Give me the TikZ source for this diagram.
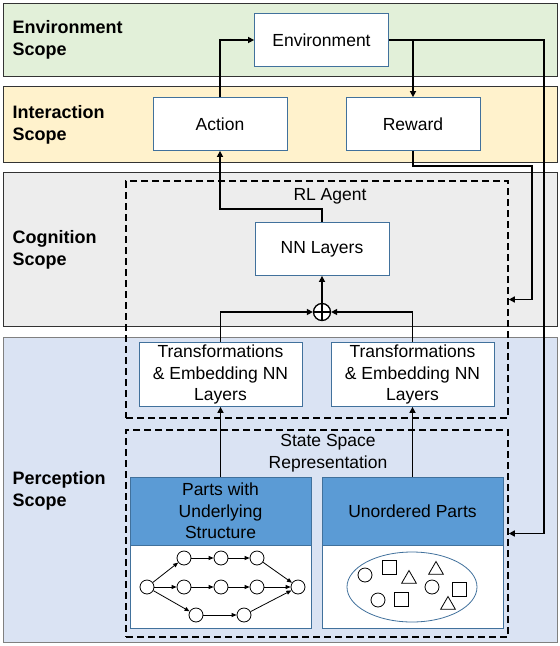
\documentclass[tikz,border=0pt]{standalone}
\usepackage{fontspec}
\setmainfont{Liberation Sans}
\usetikzlibrary{arrows.meta,shapes.geometric}

\definecolor{envgreen}{HTML}{E2F0D9}
\definecolor{actorange}{HTML}{FFF2CC}
\definecolor{coggray}{HTML}{EDEDED}
\definecolor{percblue}{HTML}{DAE3F3}
\definecolor{boxedge}{HTML}{41719C}
\definecolor{headblue}{HTML}{5B9BD5}

\tikzset{
  band/.style={draw=black!80, line width=1pt},
  scopelabel/.style={anchor=west, align=left, font=\fontsize{18}{22}\selectfont\bfseries},
  block/.style={draw=boxedge, fill=white, line width=0.8pt, minimum width=134pt,
    minimum height=53pt, inner sep=1pt, align=center, font=\fontsize{17.5}{21.5}\selectfont},
  header/.style={draw=boxedge, fill=headblue, line width=0.8pt, minimum width=181pt,
    minimum height=68pt, inner sep=1pt, align=center, font=\fontsize{17.5}{21.5}\selectfont},
  partsbody/.style={draw=boxedge, fill=white, line width=0.8pt, minimum width=181pt,
    minimum height=83pt},
  groupbox/.style={draw=black, line width=1.6pt, dash pattern=on 7pt off 4pt,
    minimum width=382pt},
  flow/.style={line width=1.7pt, -{Triangle[length=6pt,width=6pt]}},
  gnode/.style={circle, draw, line width=0.8pt, fill=white, minimum size=14pt, inner sep=0pt},
  gedge/.style={line width=0.8pt, -{Triangle[length=5pt,width=4pt]}},
  ushape/.style={draw, line width=0.8pt, inner sep=0pt},
}

\begin{document}
\begin{tikzpicture}[x=1pt, y=-1pt]
  \useasboundingbox (0,0) rectangle (560,646);

  % Scope bands
  \draw[band, fill=envgreen] (3,3) rectangle (557,76);
  \draw[band, fill=actorange] (3,86) rectangle (557,162);
  \draw[band, fill=coggray] (3,172) rectangle (557,326);
  \draw[band, draw=gray, fill=percblue] (3,337) rectangle (557,642);

  \node[scopelabel] (envscope) at (9,40) {Environment\\Scope};
  \node[scopelabel] (actscope) at (9,125) {Interaction\\Scope};
  \node[scopelabel] (cogscope) at (9,250) {Cognition\\Scope};
  \node[scopelabel] (percscope) at (9,491) {Perception\\Scope};

  % Dashed groups
  \node[groupbox, minimum height=237pt] (rlagent) at (317,299.5) {};
  \node[groupbox, minimum height=207pt] (statespace) at (317,533.5) {};
  \node[font=\fontsize{17.5}{21.5}\selectfont] (rllabel) at (330,196) {RL Agent};
  \node[align=center, font=\fontsize{17.5}{21.5}\selectfont] (statelabel) at (328,453)
    {State Space\\Representation};

  % Blocks
  \node[block] (env) at (321.5,40) {Environment};
  \node[block] (action) at (220,124) {Action};
  \node[block] (reward) at (413,124) {Reward};
  \node[block] (nn) at (322,249) {NN Layers};
  \node[circle, draw, line width=1.3pt, fill=white, minimum size=17pt, inner sep=0pt] (plus) at (322,312) {};
  \draw[line width=1.3pt] (plus.north) -- (plus.south) (plus.west) -- (plus.east);
  \node[block, minimum width=163pt, minimum height=64pt] (transL) at (220.5,374.5)
    {Transformations\\\& Embedding NN\\Layers};
  \node[block, minimum width=163pt, minimum height=64pt] (transR) at (412.5,374.5)
    {Transformations\\\& Embedding NN\\Layers};

  % State space parts
  \node[partsbody] (graphL) at (220.5,586.5) {};
  \node[partsbody] (graphR) at (412.5,586.5) {};
  \node[header] (partsL) at (220.5,511) {Parts with\\Underlying\\Structure};
  \node[header] (partsR) at (412.5,511) {Unordered Parts};

  % Connectors
  \draw[flow] (nn.north) -- ++(0,-13) -| (action.south);
  \draw[flow] (action.north) |- (env.west);
  \coordinate (envturn) at (544,40);
  \draw[flow] (env.east) -- (envturn) |- (statespace.east);
  \draw[flow] (reward.north |- env.east) -- (reward.north);
  \coordinate (rewturn) at (532,166);
  \draw[flow] (reward.south) |- (rewturn) |- (rlagent.east);
  \draw[flow] (transL.north) |- (plus.west);
  \draw[flow] (transR.north) |- (plus.east);
  \draw[flow] (plus.north) -- (nn.south);
  \draw[flow] (partsL.north) -- (transL.south);
  \draw[flow] (partsR.north) -- (transR.south);

  % Structured parts: graph
  \node[gnode] (g0) at (147,587) {};
  \node[gnode] (t1) at (184,558) {};
  \node[gnode] (t2) at (221,558) {};
  \node[gnode] (t3) at (257,558) {};
  \node[gnode] (m1) at (184,587) {};
  \node[gnode] (m2) at (221,587) {};
  \node[gnode] (m3) at (257,587) {};
  \node[gnode] (b1) at (196,615) {};
  \node[gnode] (b2) at (244,615) {};
  \node[gnode] (g9) at (298,587) {};
  \foreach \a/\b in {g0/t1, t1/t2, t2/t3, t3/g9, g0/m1, m1/m2, m2/m3, m3/g9, g0/b1, b1/b2, b2/g9}
    \draw[gedge] (\a) -- (\b);

  % Unordered parts: bag of shapes
  \node[ellipse, draw=boxedge, line width=0.8pt, minimum width=130pt, minimum height=70pt] (bag) at (412,587) {};
  \foreach \x/\y [count=\i] in {365/575, 432/587, 378/600}
    \node[ushape, circle, minimum size=14pt] (uc\i) at (\x,\y) {};
  \foreach \x/\y [count=\i] in {389/567, 459/589, 401/599}
    \node[ushape, rectangle, minimum size=14pt] (us\i) at (\x,\y) {};
  \foreach \x/\y [count=\i] in {409/579, 436/570, 448/605}
    \node[ushape, regular polygon, regular polygon sides=3, minimum size=17pt] (ut\i) at (\x,\y) {};
\end{tikzpicture}
\end{document}
